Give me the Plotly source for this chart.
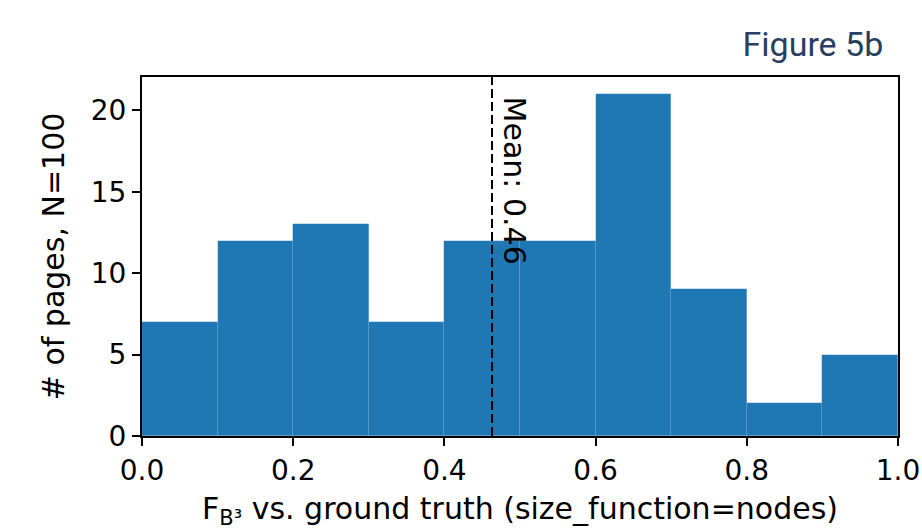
import plotly.graph_objects as go

bin_starts = [0.0, 0.1, 0.2, 0.3, 0.4, 0.5, 0.6, 0.7, 0.8, 0.9]
bin_width = 0.1
counts = [7, 12, 13, 7, 12, 12, 21, 9, 2, 5]
mean_value = 0.463
x_ticks = [0.0, 0.2, 0.4, 0.6, 0.8, 1.0]
y_ticks = [0, 5, 10, 15, 20]

font_main = "DejaVu Sans"
fs_tick = 28
fs_label = 30

fig = go.Figure()
fig.add_trace(go.Bar(
    x=[b + bin_width / 2 for b in bin_starts],
    y=counts,
    width=[bin_width] * len(counts),
    marker=dict(color="#1f77b4", line=dict(color="rgba(255,255,255,0.12)", width=0.5)),
    showlegend=False,
    hoverinfo="x+y",
))

fig.add_shape(type="line", x0=mean_value, x1=mean_value, y0=0, y1=1,
              xref="x", yref="paper",
              line=dict(color="black", width=2, dash="9px,4px"))

fig.add_annotation(x=mean_value, y=21, xref="x", yref="y",
                   text="Mean: 0.46", textangle=90, showarrow=False,
                   xanchor="left", yanchor="top", xshift=3,
                   font=dict(family=font_main, size=fs_label, color="black"))

axis_common = dict(
    ticks="outside", ticklen=8, tickwidth=2, tickcolor="black",
    showline=True, linecolor="black", linewidth=2, mirror=True,
    showgrid=False, zeroline=False, automargin=False,
    tickfont=dict(family=font_main, size=fs_tick, color="black"),
)

fig.update_layout(
    width=922, height=530,
    margin=dict(l=142, r=24, t=77, b=94),
    paper_bgcolor="white", plot_bgcolor="white",
    bargap=0,
    title=dict(text="Figure 5b", x=0.958, xanchor="right", y=0.917, yanchor="middle",
               font=dict(family="Roboto", size=34, color="#2a3f5f")),
    xaxis=dict(range=[0, 1], tickvals=x_ticks, ticktext=[f"{v:.1f}" for v in x_ticks],
               title=dict(text="F<sub>B³</sub> vs. ground truth (size_function=nodes)",
                          font=dict(family=font_main, size=fs_label, color="black"), standoff=17),
               **axis_common),
    yaxis=dict(range=[0, 22.05], tickvals=y_ticks,
               title=dict(text="# of pages, N=100",
                          font=dict(family=font_main, size=fs_label, color="black"), standoff=17),
               **axis_common),
)

fig.write_html("out.html",
               config={"displayModeBar": False},
               post_script="document.body.style.margin='0';document.body.style.overflow='hidden';")
